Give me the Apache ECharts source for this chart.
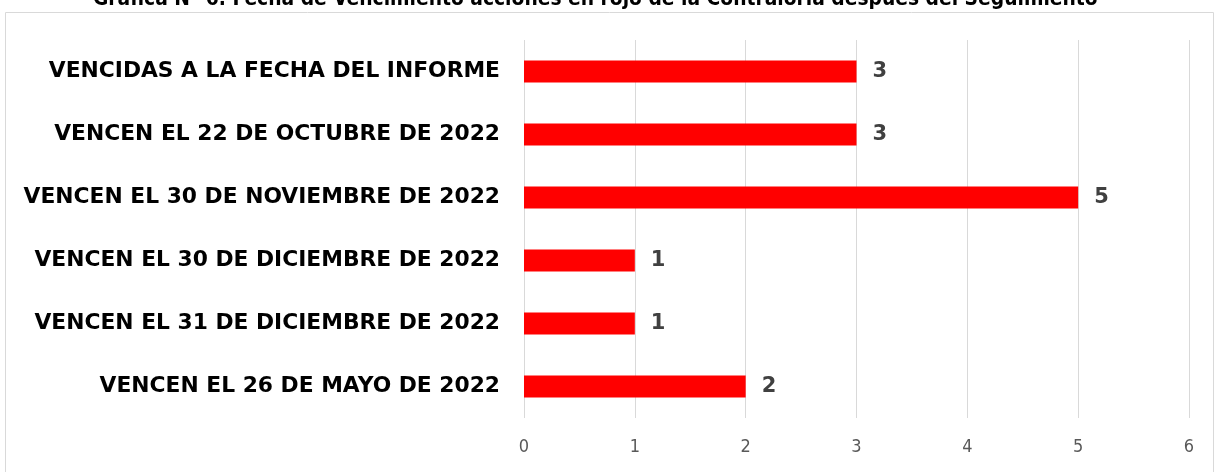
<!DOCTYPE html>
<html>
<head>
<meta charset="utf-8">
<script src="https://cdn.jsdelivr.net/npm/echarts@6/dist/echarts.min.js"></script>
<style>
  html, body { margin: 0; padding: 0; background: #fff; }
  #main { width: 1219px; height: 472px; }
</style>
</head>
<body>
<div id="main"></div>
<script>
// categorías de abajo hacia arriba (eje de categorías invertido por ECharts)
var categorias = [
    'VENCEN EL 26 DE MAYO DE 2022',
    'VENCEN EL 31 DE DICIEMBRE DE 2022',
    'VENCEN EL 30 DE DICIEMBRE DE 2022',
    'VENCEN EL 30 DE NOVIEMBRE DE 2022',
    'VENCEN EL 22 DE OCTUBRE DE 2022',
    'VENCIDAS A LA FECHA DEL INFORME'
];
var acciones = [2, 1, 1, 5, 3, 3];
var ejeX = [0, 6, 1]; // min, max, intervalo

var chart = echarts.init(document.getElementById('main'));

chart.setOption({
    animation: false,
    title: {
        text: 'Gráfica N° 6. Fecha de Vencimiento acciones en rojo de la Contraloría después del Seguimiento',
        left: 88,
        top: -16,
        textStyle: {
            fontFamily: 'DejaVu Sans Condensed',
            fontWeight: 'bold',
            fontSize: 20.8,
            color: '#000'
        }
    },
    graphic: [
        {
            type: 'rect',
            shape: {x: 5.5, y: 12.5, width: 1208, height: 470},
            style: {fill: 'none', stroke: '#d9d9d9', lineWidth: 1},
            silent: true
        }
    ],
    grid: {
        left: 524,
        right: 30,
        top: 40,
        bottom: 54
    },
    xAxis: {
        type: 'value',
        min: ejeX[0],
        max: ejeX[1],
        interval: ejeX[2],
        axisLine: {show: false},
        axisTick: {show: false},
        splitLine: {lineStyle: {color: '#d9d9d9', width: 1}},
        axisLabel: {
            margin: 20,
            fontFamily: 'DejaVu Sans Condensed',
            fontSize: 18,
            color: '#595959'
        }
    },
    yAxis: {
        type: 'category',
        data: categorias,
        axisLine: {show: false},
        axisTick: {show: false},
        axisLabel: {
            margin: 24,
            fontFamily: 'DejaVu Sans',
            fontWeight: 'bold',
            fontSize: 21.8,
            color: '#000'
        }
    },
    series: [
        {
            name: 'Acciones',
            type: 'bar',
            data: acciones,
            barWidth: '35%',
            itemStyle: {color: '#ff0000'},
            label: {
                show: true,
                position: 'right',
                distance: 16,
                fontFamily: 'DejaVu Sans',
                fontWeight: 'bold',
                fontSize: 21,
                color: '#404040'
            }
        }
    ]
});

window.onresize = function () {
    chart.resize();
};
</script>
</body>
</html>
